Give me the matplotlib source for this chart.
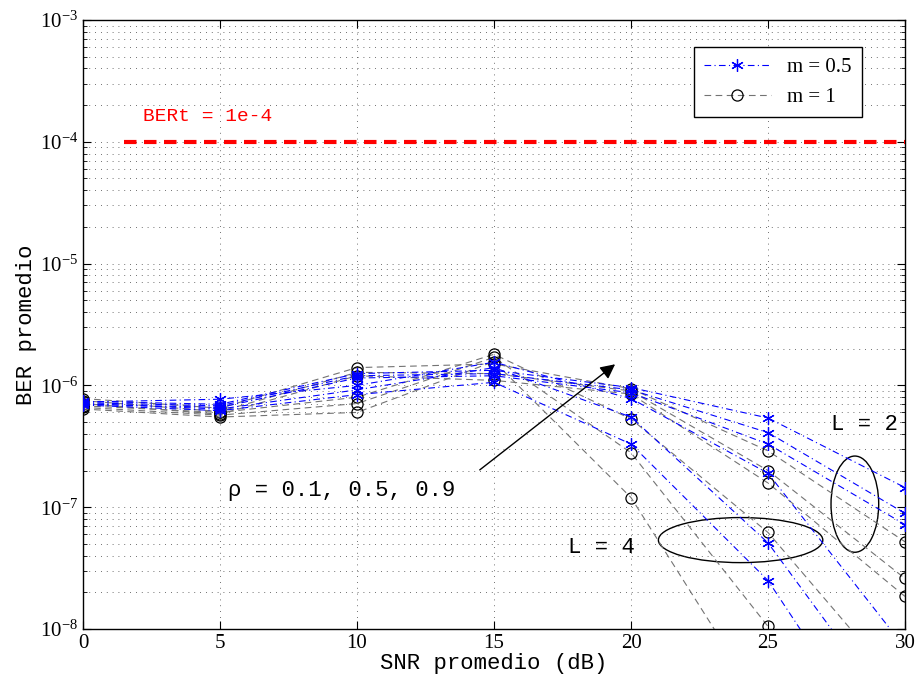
import matplotlib
matplotlib.use("Agg")
import matplotlib.pyplot as plt
from matplotlib.patches import Ellipse
import numpy as np

plt.rcParams['font.family'] = ['Liberation Serif', 'DejaVu Serif']
plt.rcParams['mathtext.fontset'] = 'stix'

# SNR points (dB)
snr = [0, 5, 10, 15, 20, 25, 30]

# BER promedio, m = 0.5 (rho = 0.1, 0.5, 0.9)
ber_m05_L2 = [
    [7.4e-7, 7.0e-7, 1.25e-6, 1.33e-6, 9.6e-7, 5.4e-7, 1.45e-7],
    [7.2e-7, 6.8e-7, 1.20e-6, 1.25e-6, 9.2e-7, 4.1e-7, 8.9e-8],
    [7.0e-7, 6.6e-7, 1.15e-6, 1.20e-6, 8.7e-7, 3.3e-7, 7.2e-8],
]
ber_m05_L4 = [
    [7.3e-7, 7.7e-7, 1.00e-6, 1.55e-6, 7.8e-7, 1.9e-7, 7e-9],
    [7.1e-7, 6.4e-7, 9.2e-7, 1.40e-6, 5.5e-7, 5.1e-8, 1.5e-9],
    [6.9e-7, 6.2e-7, 8.4e-7, 1.06e-6, 3.3e-7, 2.5e-8, 5e-10],
]
# BER promedio, m = 1
ber_m1_L2 = [
    [7.8e-7, 6.5e-7, 1.40e-6, 1.50e-6, 9.4e-7, 2.9e-7, 5.2e-8],
    [7.5e-7, 6.1e-7, 1.28e-6, 1.25e-6, 9.0e-7, 2.0e-7, 2.6e-8],
    [7.1e-7, 5.8e-7, 1.20e-6, 1.10e-6, 8.5e-7, 1.58e-7, 1.85e-8],
]
ber_m1_L4 = [
    [6.8e-7, 6.0e-7, 8.0e-7, 1.80e-6, 5.3e-7, 6.2e-8, 3e-9],
    [6.6e-7, 5.7e-7, 7.1e-7, 1.70e-6, 2.8e-7, 1.05e-8, 5e-10],
    [6.4e-7, 5.5e-7, 6.0e-7, 1.57e-6, 1.2e-7, 2e-9, 1e-10],
]

ber_target = 1e-4
target_x = [1.5, 30]

fig = plt.figure(figsize=(9.19, 6.8), dpi=100)
ax = fig.add_axes([83/919, 1 - 629/680, 822/919, 609/680])

mono = 'Liberation Mono'
asterisk = (6, 2, 0)

h1 = None
h05 = None
# m = 1 curves (gray dashed, black circles)
for y in ber_m1_L2 + ber_m1_L4:
    ln, = ax.plot(snr, y, linestyle='--', dashes=(6, 4), color='0.45',
                  linewidth=0.8, marker='o', markersize=8,
                  markerfacecolor='none', markeredgecolor='k',
                  markeredgewidth=0.9, zorder=2)
    if h1 is None:
        h1 = ln
# m = 0.5 curves (blue dash-dot, asterisks)
for y in ber_m05_L2 + ber_m05_L4:
    ln, = ax.plot(snr, y, linestyle='-.', dashes=(6, 3, 1, 3), color='blue',
                  linewidth=0.8, marker=asterisk, markersize=9,
                  markeredgewidth=0.9, markeredgecolor='blue', zorder=3)
    if h05 is None:
        h05 = ln

# target BER line
ax.plot(target_x, [ber_target, ber_target], linestyle='--', color='red',
        linewidth=3, dashes=(3, 1.8), zorder=4)
ax.text(2.2, 1.6e-4, 'BERt = 1e-4', color='red', family=mono,
        fontsize=14, va='center', ha='left')

ax.set_yscale('log')
ax.set_xlim(0, 30)
ax.set_ylim(1e-8, 1e-3)
ax.set_xticks([0, 5, 10, 15, 20, 25, 30])

ax.grid(True, which='major', axis='both', linestyle=(0, (1, 6)),
        color='0.25', linewidth=0.6)
ax.grid(True, which='minor', axis='y', linestyle=(0, (1, 6)),
        color='0.25', linewidth=0.6)

ax.tick_params(which='both', direction='in', top=True, right=True,
               labelsize=15)
ax.tick_params(which='major', length=6)
ax.tick_params(which='minor', length=3)
for s in ax.spines.values():
    s.set_linewidth(1.0)

ax.set_xlabel('SNR promedio (dB)', family=mono, fontsize=16, labelpad=0)
ax.set_ylabel('BER promedio', family=mono, fontsize=16, labelpad=2)

# annotations
ax.annotate('', xy=(19.5, 1.54e-6), xytext=(14.4, 1.96e-7),
            arrowprops=dict(arrowstyle='-|>', color='k', lw=1,
                            mutation_scale=22))
ax.text(5.3, 1.37e-7, 'ρ = 0.1, 0.5, 0.9', family=[mono, 'DejaVu Sans Mono'],
        fontsize=16, va='center', ha='left')
ax.text(17.7, 4.7e-8, 'L = 4', family=mono, fontsize=16,
        va='center', ha='left')
ax.text(27.3, 4.8e-7, 'L = 2', family=mono, fontsize=16,
        va='center', ha='left')

ax.add_patch(Ellipse((0.80, 0.146), 0.20, 0.074, transform=ax.transAxes,
                     fill=False, edgecolor='k', linewidth=1))
ax.add_patch(Ellipse((0.939, 0.205), 0.058, 0.158, transform=ax.transAxes,
                     fill=False, edgecolor='k', linewidth=1))

leg = ax.legend([h05, h1], ['m = 0.5', 'm = 1'], loc='upper right',
                bbox_to_anchor=(0.948, 0.956),
                fancybox=False, edgecolor='k', framealpha=1, fontsize=15,
                borderaxespad=0, handlelength=3.2, borderpad=0.5)
leg.get_frame().set_linewidth(1)

fig.savefig('out.png', dpi=100)
